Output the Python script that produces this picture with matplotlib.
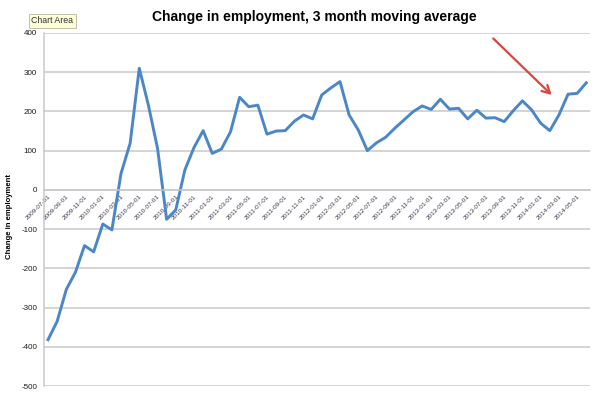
import matplotlib
matplotlib.use('Agg')
import matplotlib.pyplot as plt
import numpy as np
import pandas as pd

plt.rcParams['font.family'] = ['Liberation Sans', 'DejaVu Sans']

# 3 month moving average of the change in employment (thousands)
months = pd.date_range('2009-07-01', '2014-06-01', freq='MS').strftime('%Y-%m-%d').tolist()
change = [-382, -335, -254, -210, -142, -158, -87, -102, 42, 119,
          310, 216, 106, -75, -51, 51, 108, 151, 93, 104,
          148, 236, 212, 216, 142, 150, 151, 175, 191, 181,
          242, 260, 276, 191, 153, 100, 120, 134, 157, 178,
          199, 214, 205, 231, 206, 208, 181, 203, 183, 184,
          174, 202, 227, 204, 170, 151, 191, 244, 246, 273]

y_ticks = list(range(-500, 401, 100))
label_every = 2

# arrow pointing at the recent dip: (category index, value)
arrow_start = (48.8, 386)
arrow_end = (55.2, 242)

grid_color = '#c9c9c9'
line_color = '#4a86c8'

fig = plt.figure(figsize=(5.99, 3.94), dpi=100)
ax = fig.add_axes([0.0735, 0.0203, 0.912, 0.896])

x = np.arange(len(months))
ax.plot(x, change, color=line_color, linewidth=2.1, solid_joinstyle='round')

ax.set_xlim(-0.44, len(months) - 1 + 0.44)
ax.set_ylim(-500, 400)
ax.set_yticks(y_ticks)
ax.set_yticklabels([str(v) for v in y_ticks], fontsize=5.8, color='#1a1a1a')
ax.yaxis.grid(True, color=grid_color, linewidth=1.1)
ax.set_axisbelow(True)

# category axis crosses the value axis at 0, like in Excel
ax.spines['bottom'].set_position(('data', 0))
ax.spines['bottom'].set_color(grid_color)
ax.spines['bottom'].set_linewidth(1.1)
ax.spines['left'].set_color(grid_color)
ax.spines['left'].set_linewidth(1.1)
ax.spines['top'].set_visible(False)
ax.spines['right'].set_visible(False)

ax.set_xticks(x[::label_every])
ax.set_xticklabels(months[::label_every], fontsize=4.6, color='#3a3a50',
                   rotation=45, ha='right', rotation_mode='anchor')
ax.tick_params(axis='x', length=0, pad=3)
ax.tick_params(axis='y', length=0, pad=5)

ax.set_ylabel('Change in employment', fontsize=5.6, fontweight='bold')
ax.yaxis.set_label_coords(-0.057, 0.48)

ax.annotate('', xy=arrow_end, xytext=arrow_start,
            arrowprops=dict(arrowstyle='->,head_length=0.55,head_width=0.3',
                            color='#d9463e', linewidth=1.6,
                            shrinkA=0, shrinkB=0))

fig.text(0.524, 0.958, 'Change in employment, 3 month moving average',
         ha='center', va='center', fontsize=10, fontweight='bold')

fig.text(0.052, 0.947, 'Chart Area', ha='left', va='center', fontsize=6.3,
         color='#333333',
         bbox=dict(boxstyle='square,pad=0.3', facecolor='#fdfdd8',
                   edgecolor='#b8b8a0', linewidth=0.6))

fig.savefig('out.png', dpi=100)
